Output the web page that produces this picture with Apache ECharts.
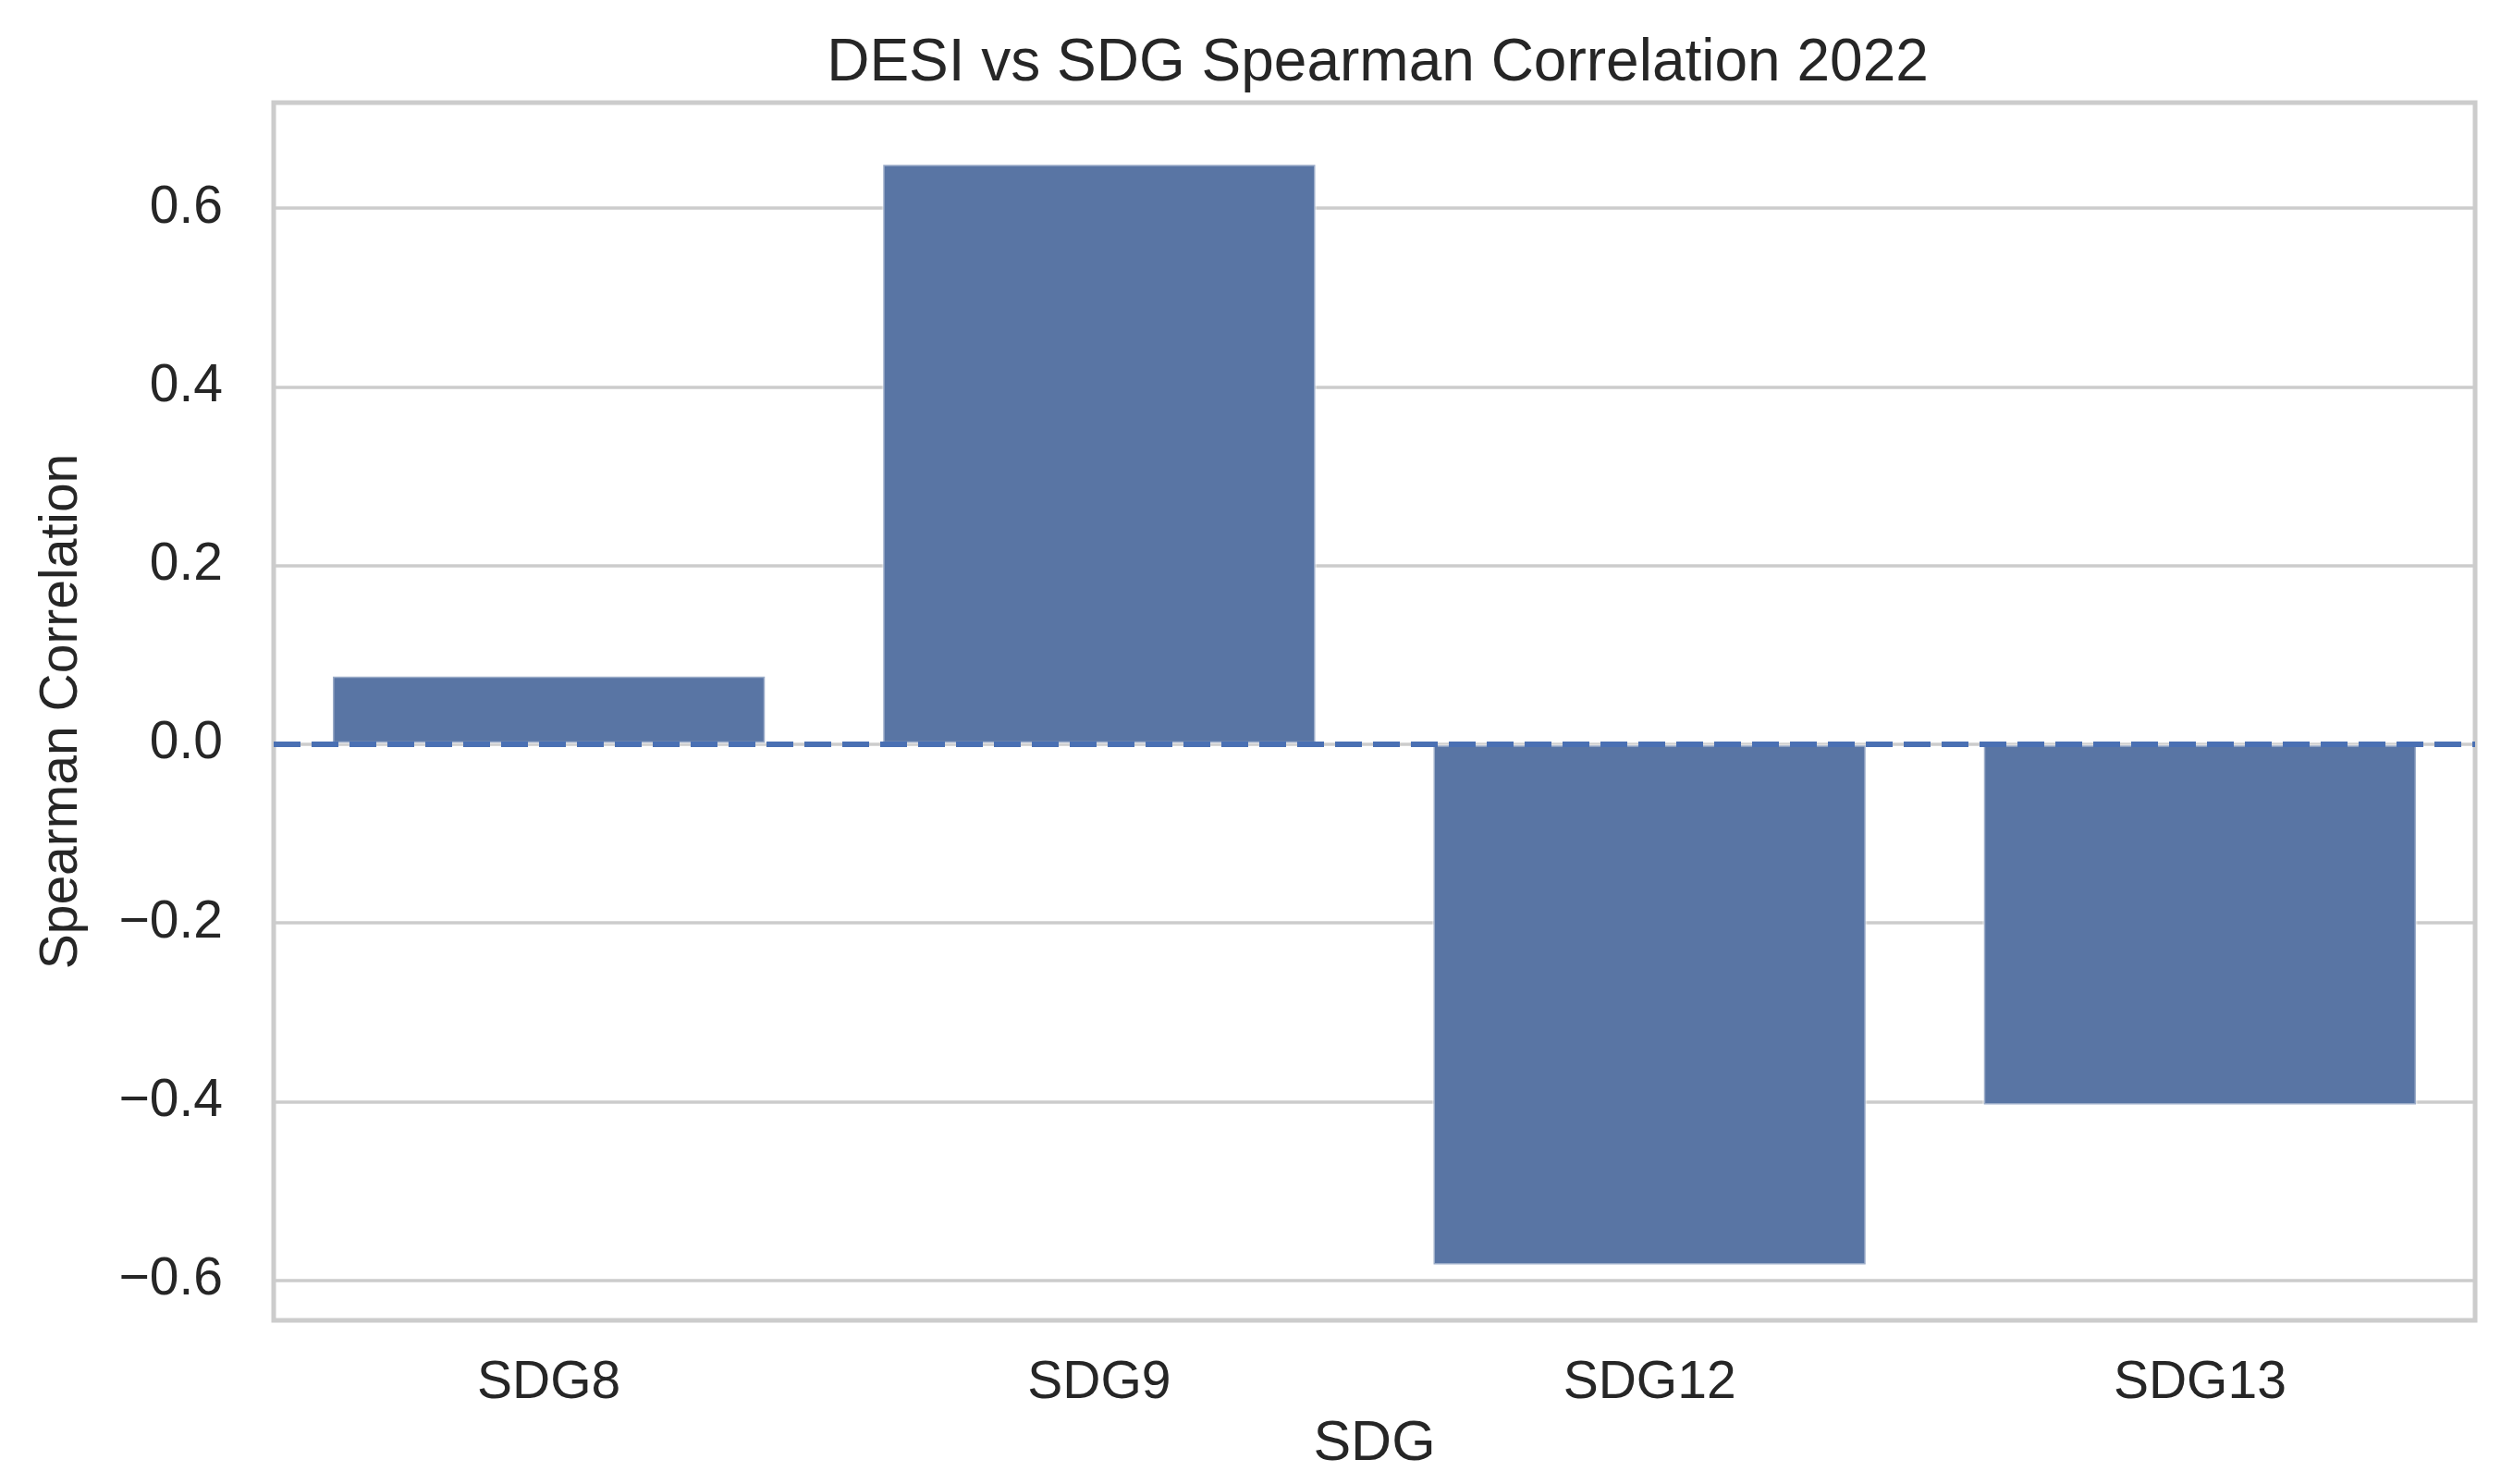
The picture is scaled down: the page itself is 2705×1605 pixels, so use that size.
<!DOCTYPE html>
<html>
<head>
<meta charset="utf-8">
<title>DESI vs SDG Spearman Correlation 2022</title>
<script src="https://cdn.jsdelivr.net/npm/echarts@6/dist/echarts.min.js"></script>
<style>
  html, body { margin: 0; padding: 0; background: #fff; }
  #chart { width: 2705px; height: 1605px; }
</style>
</head>
<body>
<div id="chart"></div>
<script>
// values
var sdgNames = ['SDG8', 'SDG9', 'SDG12', 'SDG13']
var spearman = [0.077, 0.65, -0.584, -0.405]
var zeroLine = 0

var textColor = '#262626'
var fontFamily = '"Liberation Sans", Arial, sans-serif'

var chart = echarts.init(document.getElementById('chart'))
chart.setOption({
  backgroundColor: '#ffffff',
  animation: false,
  title: {
    text: 'DESI vs SDG Spearman Correlation 2022',
    left: 1485,
    textAlign: 'center',
    top: 32,
    textStyle: { fontFamily: fontFamily, fontSize: 64, fontWeight: 'normal', color: textColor }
  },
  grid: {
    left: 296,
    right: 28,
    top: 111,
    bottom: 177,
    show: true,
    borderColor: '#cccccc',
    borderWidth: 5,
    backgroundColor: '#ffffff'
  },
  xAxis: {
    type: 'category',
    data: sdgNames,
    name: 'SDG',
    nameLocation: 'middle',
    nameGap: 104,
    nameTextStyle: { fontFamily: fontFamily, fontSize: 61, color: textColor },
    axisLine: { show: false },
    axisTick: { show: false },
    axisLabel: { fontFamily: fontFamily, fontSize: 57, color: textColor, margin: 40 },
    splitLine: { show: false }
  },
  yAxis: {
    type: 'value',
    min: -0.645,
    max: 0.718,
    splitNumber: 7,
    name: 'Spearman Correlation',
    nameLocation: 'middle',
    nameGap: 200,
    nameTextStyle: { fontFamily: fontFamily, fontSize: 57, color: textColor },
    axisLine: { show: false },
    axisTick: { show: false },
    axisLabel: {
      fontFamily: fontFamily,
      fontSize: 57,
      color: textColor,
      margin: 55,
      showMinLabel: false,
      showMaxLabel: false,
      formatter: function (v) {
        return v.toFixed(1).replace('-', '\u2212')
      }
    },
    splitLine: { show: true, lineStyle: { color: '#cccccc', width: 3.5 } }
  },
  series: [
    {
      type: 'bar',
      data: spearman,
      barWidth: '79%',
      itemStyle: {
        color: '#5975a4',
        borderColor: 'rgba(255,255,255,0.4)',
        borderWidth: 3
      },
      markLine: {
        silent: true,
        symbol: 'none',
        label: { show: false },
        lineStyle: { color: '#4a70b3', width: 6, type: [29, 12] },
        data: [{ yAxis: zeroLine }]
      }
    }
  ]
})
</script>
</body>
</html>
